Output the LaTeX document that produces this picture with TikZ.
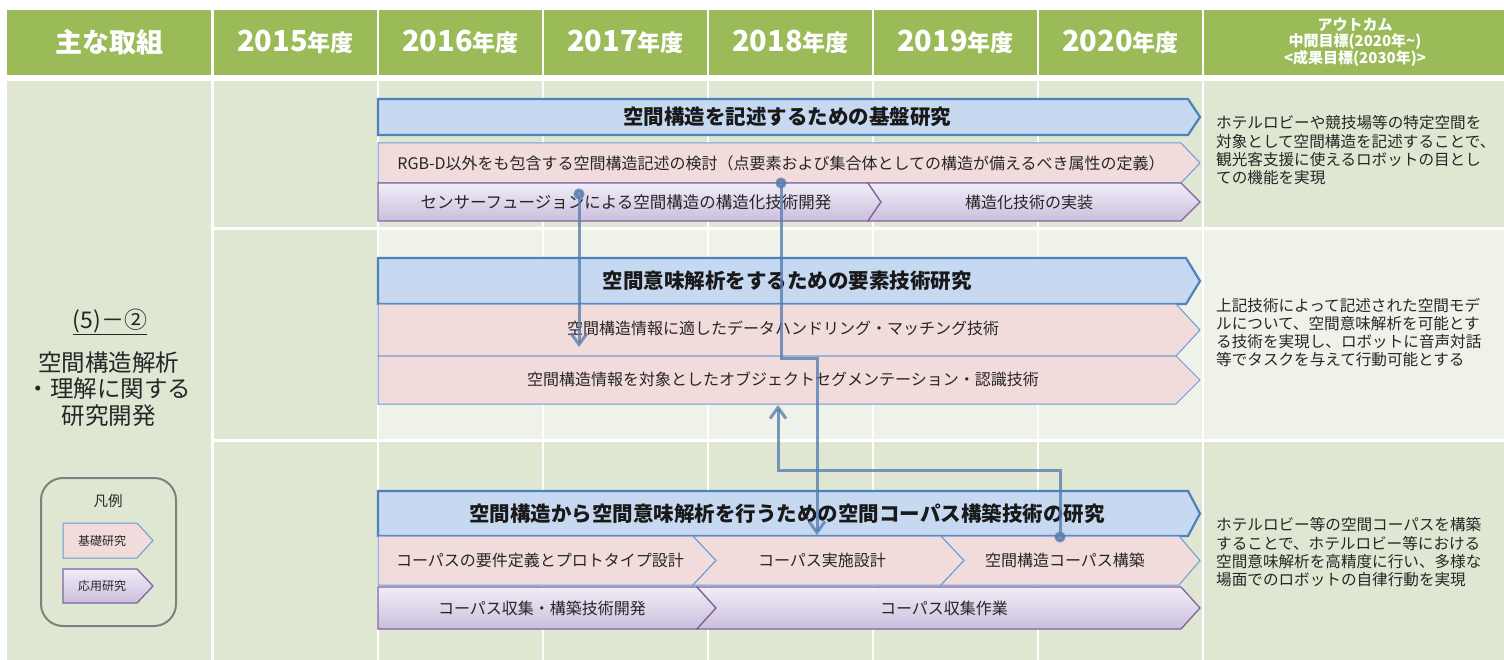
\documentclass[tikz,border=0pt]{standalone}
\usepackage{fontspec}
\setmainfont{Noto Sans CJK JP}
\usepackage{xcolor}
\definecolor{colHead}{HTML}{9BBB59}
\definecolor{colCell}{HTML}{DFE7D3}
\definecolor{colCellPale}{HTML}{EFF2E9}
\definecolor{colBase}{HTML}{C6D9F1}
\definecolor{colBaseLine}{HTML}{4F81BD}
\definecolor{colPink}{HTML}{F2DCDB}
\definecolor{colPinkLine}{HTML}{6A9BD8}
\definecolor{colAppTop}{HTML}{F1EDF7}
\definecolor{colAppBot}{HTML}{CBBEDD}
\definecolor{colAppLine}{HTML}{8064A2}
\definecolor{colLink}{HTML}{557DAF}
\definecolor{colLegLine}{HTML}{7F7F7F}
\usepackage{tikz}
\usetikzlibrary{arrows.meta, positioning, calc}

\begin{document}
\begin{tikzpicture}[x=1pt, y=-1pt,
		headtxt/.style={text=white, font=\bfseries\fontsize{27}{27}\selectfont},
		yeartxt/.style={text=white, font=\bfseries\fontsize{29}{29}\selectfont},
		basebar/.style={fill=colBase, draw=colBaseLine, line width=2.2pt},
		pinkbar/.style={fill=colPink, draw=colPinkLine, line width=1pt},
		appbar/.style={top color=colAppTop, bottom color=colAppBot, draw=colAppLine, line width=1.3pt},
		basetxt/.style={font=\bfseries\fontsize{20.5}{20.5}\selectfont, text=black!90},
		bartxt/.style={font=\fontsize{16}{16}\selectfont, text=black!85},
		outtxt/.style={font=\fontsize{15.6}{18.3}\selectfont, align=left, anchor=west, inner sep=0pt, text=black!85},
		link/.style={draw=colLink, opacity=0.78, line width=3pt, {Circle[length=11pt]}-{Straight Barb[length=11pt, width=16pt]}}]
	\fill[white] (0,0) rectangle (1504,660);
	\useasboundingbox (0,0) rectangle (1504,660);
	% header band
	\fill[colHead] (7,10) rectangle (211,75);
	\foreach \i in {0,...,5}
		\fill[colHead] ({214+165*\i},10) rectangle ++(163,65);
	\fill[colHead] (1204,10) rectangle (1504,75);
	\node[headtxt] (hMain) at (109,42) {主な取組};
	\foreach \yr [count=\i] in {2015,2016,2017,2018,2019,2020}
		\node[yeartxt] (h\yr) at ({295.5+165*(\i-1)},42) {\yr{\fontsize{23}{23}\selectfont 年度}};
	\node[text=white, font=\bfseries\fontsize{15}{16.5}\selectfont, align=center] (hOut) at (1355,42)
		{アウトカム\\中間目標(2020年\textasciitilde)\\<成果目標(2030年)>};
	% body cells
	\fill[colCell] (7,81) rectangle (211,660);
	\foreach \i/\c in {0/colCell, 1/colCellPale, 2/colCellPale, 3/colCellPale, 4/colCellPale, 5/colCellPale} {
		\fill[colCell] ({214+165*\i},81) rectangle ++(163,146);
		\fill[\c] ({214+165*\i},230) rectangle ++(163,209);
		\fill[colCell] ({214+165*\i},442) rectangle ++(163,218);
	}
	\fill[colCell] (1204,81) rectangle (1504,227);
	\fill[colCellPale] (1204,230) rectangle (1504,439);
	\fill[colCell] (1204,442) rectangle (1504,660);
	% theme
	\node[font=\fontsize{23}{23}\selectfont, text=black!85] (grpNo) at (110,322) {\underline{(5)－②}};
	\node[font=\fontsize{23.5}{26.5}\selectfont, align=center, text=black!85] (grpName) at (109,389)
		{空間構造解析\\・理解に関する\\研究開発};
	% legend
	\draw[colLegLine, line width=2pt, rounded corners=22pt] (41,478) rectangle (176,626);
	\node[font=\fontsize{14.5}{14.5}\selectfont, text=black!85] (legTitle) at (108,501) {凡例};
	\draw[pinkbar] (63,523) -- (137,523) -- (153,540.5) -- (137,558) -- (63,558) -- cycle;
	\node[font=\fontsize{12}{12}\selectfont, text=black!85] (legBase) at (102,540.5) {基礎研究};
	\draw[appbar] (63,569) -- (137,569) -- (153,586) -- (137,603) -- (63,603) -- cycle;
	\node[font=\fontsize{12}{12}\selectfont, text=black!85] (legApp) at (102,586) {応用研究};
	% row 1
	\draw[basebar] (378,99) -- (1188,99) -- (1200,117) -- (1188,135) -- (378,135) -- cycle;
	\node[basetxt] (r1base) at (787,117) {空間構造を記述するための基盤研究};
	\draw[pinkbar] (378,143) -- (1181,143) -- (1200,163) -- (1181,183) -- (378,183) -- cycle;
	\node[bartxt] (r1pink) at (781,163) {RGB-D以外をも包含する空間構造記述の検討（点要素および集合体としての構造が備えるべき属性の定義）};
	\draw[appbar] (378,183) -- (868,183) -- (881,202) -- (868,221) -- (378,221) -- cycle;
	\node[bartxt, font=\fontsize{16.5}{16.5}\selectfont] (r1appA) at (626,202) {センサーフュージョンによる空間構造の構造化技術開発};
	\draw[appbar] (868,183) -- (1181,183) -- (1200,202) -- (1181,221) -- (868,221) -- (881,202) -- cycle;
	\node[bartxt] (r1appB) at (1029,202) {構造化技術の実装};
	% row 2
	\draw[basebar] (378,258) -- (1186,258) -- (1200,281) -- (1186,304) -- (378,304) -- cycle;
	\node[basetxt] (r2base) at (787,281) {空間意味解析をするための要素技術研究};
	\draw[pinkbar] (378,304) -- (1176,304) -- (1200,330) -- (1176,356) -- (378,356) -- cycle;
	\node[bartxt] (r2pinkA) at (783,328) {空間構造情報に適したデータハンドリング・マッチング技術};
	\draw[pinkbar] (378,356) -- (1176,356) -- (1200,380) -- (1176,404) -- (378,404) -- cycle;
	\node[bartxt] (r2pinkB) at (783,379) {空間構造情報を対象としたオブジェクトセグメンテーション・認識技術};
	% row 3
	\draw[basebar] (378,491) -- (1188,491) -- (1200,513.5) -- (1188,536) -- (378,536) -- cycle;
	\node[basetxt] (r3base) at (787,513.5) {空間構造から空間意味解析を行うための空間コーパス構築技術の研究};
	\draw[pinkbar] (378,536) -- (693,536) -- (716,560.5) -- (693,585) -- (378,585) -- cycle;
	\node[bartxt] (r3pinkA) at (540,560.5) {コーパスの要件定義とプロトタイプ設計};
	\draw[pinkbar] (693,536) -- (941,536) -- (964,560.5) -- (941,585) -- (693,585) -- (716,560.5) -- cycle;
	\node[bartxt] (r3pinkB) at (822,560.5) {コーパス実施設計};
	\draw[pinkbar] (941,536) -- (1179,536) -- (1200,560.5) -- (1179,585) -- (941,585) -- (964,560.5) -- cycle;
	\node[bartxt] (r3pinkC) at (1065,560.5) {空間構造コーパス構築};
	\draw[appbar] (378,587) -- (697,587) -- (716,608) -- (697,629) -- (378,629) -- cycle;
	\node[bartxt] (r3appA) at (542,608) {コーパス収集・構築技術開発};
	\draw[appbar] (697,587) -- (1181,587) -- (1200,608) -- (1181,629) -- (697,629) -- (716,608) -- cycle;
	\node[bartxt] (r3appB) at (944,608) {コーパス収集作業};
	% outcomes
	\node[outtxt] (out1) at (1216,150.5) {ホテルロビーや競技場等の特定空間を\\対象として空間構造を記述することで、\\観光客支援に使えるロボットの目とし\\ての機能を実現};
	\node[outtxt] (out2) at (1216,332.5) {上記技術によって記述された空間モデ\\ルについて、空間意味解析を可能とす\\る技術を実現し、ロボットに音声対話\\等でタスクを与えて行動可能とする};
	\node[outtxt] (out3) at (1216,552.5) {ホテルロビー等の空間コーパスを構築\\することで、ホテルロビー等における\\空間意味解析を高精度に行い、多様な\\場面でのロボットの自律行動を実現};
	% links
	\coordinate (d1) at (579,188.5);
	\coordinate (a1) at (579,347);
	\coordinate (d2) at (781,177.5);
	\coordinate (a2) at (817,535);
	\coordinate (d3) at (1060,542.5);
	\coordinate (a3) at (778,405);
	\draw[link] (d1) -- (a1);
	\draw[link] (d2) -- ++(0,180.5) -| (a2);
	\draw[link] (d3) -- ++(0,-72.5) -| (a3);
\end{tikzpicture}
\end{document}
